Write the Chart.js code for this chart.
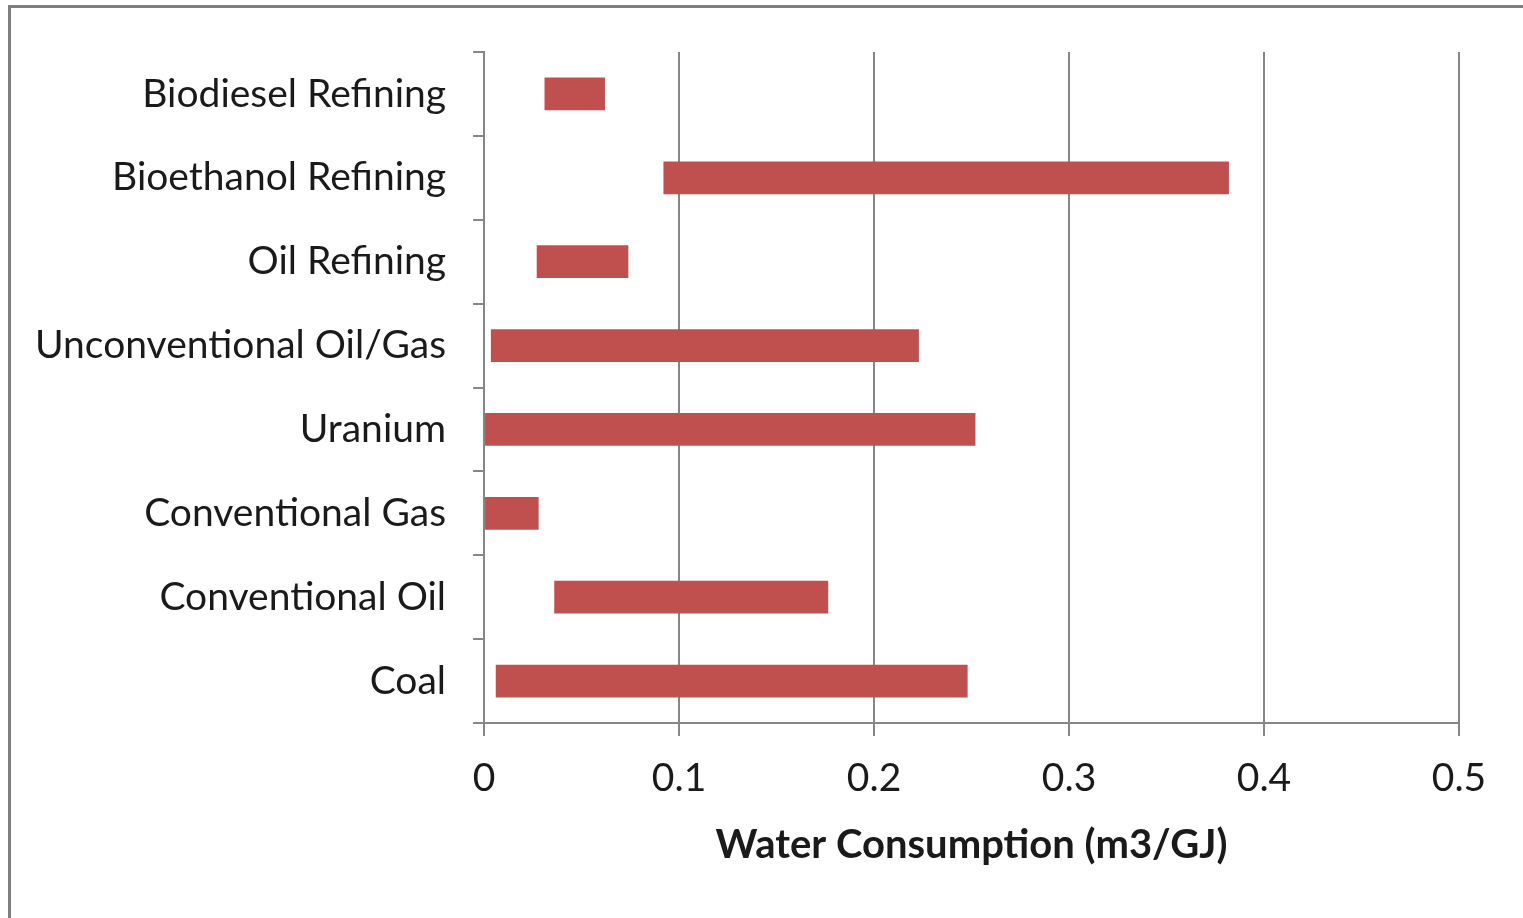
<!DOCTYPE html>
<html>
<head>
<meta charset="utf-8">
<script src="https://cdn.jsdelivr.net/npm/chart.js@4/dist/chart.umd.min.js"></script>
<style>
  html, body { margin: 0; padding: 0; background: #fff; overflow: hidden; }
  #frame { position: absolute; left: 8px; top: 5px; width: 1600px; height: 1000px;
           border-left: 3px solid #7f7f7f; border-top: 3px solid #7f7f7f; box-sizing: border-box; }
  #c { position: absolute; left: 0; top: 0; }
</style>
</head>
<body>
<div id="frame"></div>
<canvas id="c" width="1523" height="918"></canvas>
<script>
const categories = ["Biodiesel Refining", "Bioethanol Refining", "Oil Refining", "Unconventional Oil/Gas",
                    "Uranium", "Conventional Gas", "Conventional Oil", "Coal"];
const lowValues  = [0.031, 0.092, 0.027, 0.0035, 0.0005, 0.0, 0.036, 0.006];
const highValues = [0.062, 0.382, 0.074, 0.223, 0.252, 0.028, 0.1765, 0.248];
const xTickValues = [0, 0.1, 0.2, 0.3, 0.4, 0.5];
const axisTitle = "Water Consumption (m3/GJ)";

const FONT = "Lato, 'Open Sans', sans-serif";
const GRID = "#868686";

new Chart(document.getElementById("c"), {
  type: "bar",
  data: {
    labels: categories,
    datasets: [{
      data: categories.map((c, i) => [lowValues[i], highValues[i]]),
      backgroundColor: "#C0504D",
      borderWidth: 0,
      borderSkipped: false,
      barPercentage: 0.39,
      categoryPercentage: 1.0
    }]
  },
  options: {
    indexAxis: "y",
    responsive: false,
    animation: false,
    layout: { padding: { left: 8, right: 64, top: 52, bottom: 49 } },
    plugins: { legend: { display: false }, tooltip: { enabled: false } },
    scales: {
      x: {
        min: 0, max: 0.5,
        afterBuildTicks: (axis) => { axis.ticks = xTickValues.map(v => ({ value: v })); },
        ticks: {
          callback: (v) => String(Math.round(v * 10) / 10),
          font: { family: FONT, size: 39, lineHeight: 1 },
          color: "#1a1a1a",
          padding: 23,
          maxRotation: 0
        },
        grid: { color: GRID, lineWidth: 2, tickLength: 13, drawOnChartArea: true },
        border: { display: true, color: GRID, width: 2 },
        title: {
          display: true, text: axisTitle,
          font: { family: FONT, size: 40, weight: "bold" },
          color: "#1a1a1a",
          padding: { top: 0, bottom: 0 }
        }
      },
      y: {
        offset: true,
        grid: { offset: true, color: GRID, lineWidth: 2, tickLength: 11, drawOnChartArea: false },
        border: { display: true, color: GRID, width: 2 },
        ticks: {
          font: { family: FONT, size: 39 },
          color: "#1a1a1a",
          padding: 27
        }
      }
    }
  }
});
</script>
</body>
</html>
